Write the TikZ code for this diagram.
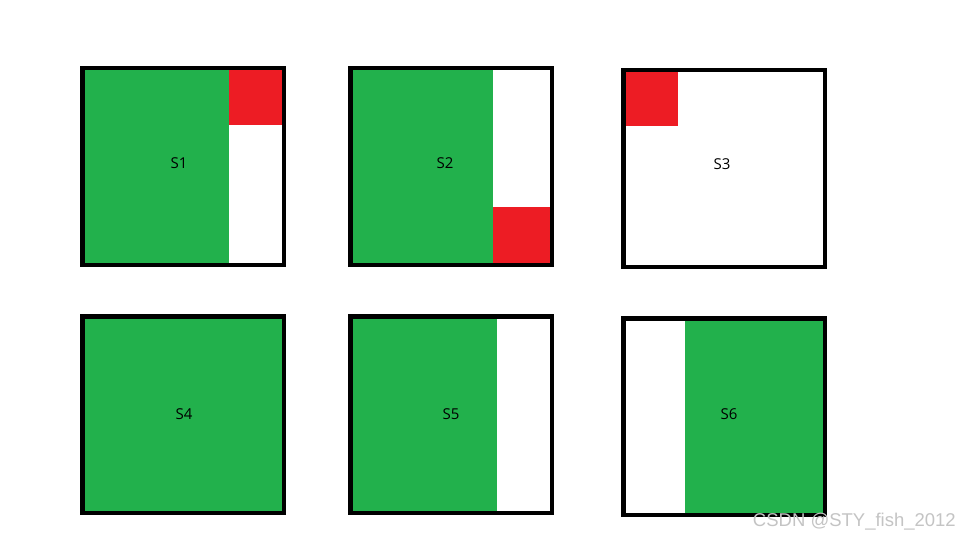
\documentclass[tikz,border=0pt]{standalone}
\usepackage{fontspec}
\setmainfont{Open Sans}
\newfontfamily\wmfont{Liberation Sans}
\definecolor{pgreen}{HTML}{22B14C}
\definecolor{pred}{HTML}{ED1C24}
\definecolor{wmgray}{HTML}{C4C4C4}
\begin{document}
\begin{tikzpicture}[x=1pt,y=-1pt,
  frame/.style={draw=black,line width=4.5pt},
  gfill/.style={fill=pgreen},
  rfill/.style={fill=pred},
  lbl/.style={inner sep=0pt,font=\fontsize{15pt}{15pt}\selectfont,text=black}]
\useasboundingbox (0,0) rectangle (960,540);
\fill[white] (0,0) rectangle (960,540);
% Box 1
\fill[gfill] (84,70) rectangle (229,263);
\fill[rfill] (229,70) rectangle (282,125);
\draw[frame] (82.25,68.25) rectangle (283.75,264.75);
\node[lbl] (s1) at (179,163) {S1};
% Box 2
\fill[gfill] (352,70) rectangle (493,263);
\fill[rfill] (493,207) rectangle (550,263);
\draw[frame] (350.25,68.25) rectangle (551.75,264.75);
\node[lbl] (s2) at (445,163) {S2};
% Box 3
\fill[rfill] (625,72) rectangle (678,126);
\draw[frame] (623.25,70.25) rectangle (824.75,266.75);
\node[lbl] (s3) at (722,164) {S3};
% Box 4
\fill[gfill] (84,318) rectangle (282,511);
\draw[frame] (82.25,316.25) rectangle (283.75,512.75);
\node[lbl] (s4) at (184,414) {S4};
% Box 5
\fill[gfill] (352,318) rectangle (497,511);
\draw[frame] (350.25,316.25) rectangle (551.75,512.75);
\node[lbl] (s5) at (451,414) {S5};
% Box 6
\fill[gfill] (685,320) rectangle (823,513);
\draw[frame] (623.25,318.25) rectangle (824.75,514.75);
\node[lbl] (s6) at (729,414) {S6};
% watermark
\node[anchor=east,inner sep=0pt,text=wmgray,font=\wmfont\fontsize{18.5pt}{18.5pt}\selectfont] (wm) at (956,522) {CSDN @STY\_fish\_2012};
\end{tikzpicture}
\end{document}
